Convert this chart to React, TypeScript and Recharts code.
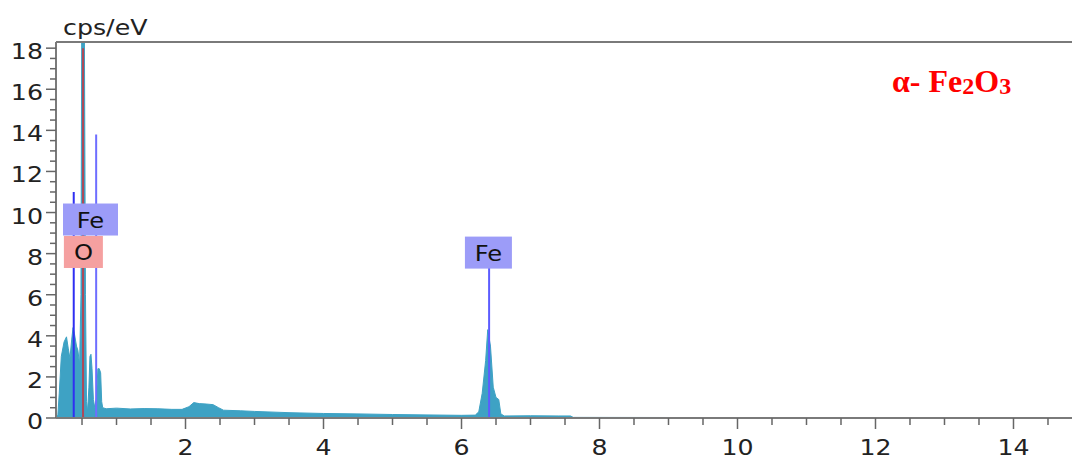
import { ComposedChart, Area, XAxis, YAxis, ReferenceLine, ReferenceDot } from "recharts";

// spectrum (keV, cps/eV)
const energy = [
  0.123, 0.15, 0.17, 0.2, 0.24, 0.275, 0.3, 0.325, 0.35, 0.37, 0.39, 0.42, 0.44, 0.465, 0.485, 0.495,
  0.535, 0.55, 0.565, 0.58, 0.6, 0.615, 0.63, 0.645, 0.665, 0.685, 0.71, 0.73, 0.75, 0.77, 0.785,
  0.8, 0.85, 1.0, 1.2, 1.4, 1.6, 1.8, 1.95, 2.05, 2.12, 2.2, 2.3, 2.4, 2.48, 2.55, 2.8, 3.0, 3.5,
  4.0, 4.5, 5.0, 5.5, 6.0, 6.2, 6.25, 6.3, 6.35, 6.38, 6.42, 6.46, 6.5, 6.54, 6.57, 6.62, 7.0, 7.4,
  7.58, 7.62, 10.0, 14.85,
];
const counts = [
  0.05, 0.15, 1.2, 3.0, 3.7, 3.95, 3.4, 2.9, 3.8, 4.4, 4.1, 3.5, 3.3, 2.6, 6.0, 18.3,
  18.3, 6.0, 0.8, 0.3, 1.5, 3.0, 3.1, 2.4, 0.9, 0.5, 1.0, 2.4, 2.4, 2.2, 0.8,
  0.5, 0.45, 0.48, 0.44, 0.46, 0.45, 0.42, 0.42, 0.55, 0.75, 0.7, 0.68, 0.65, 0.5, 0.38, 0.35, 0.32, 0.26,
  0.22, 0.2, 0.17, 0.15, 0.13, 0.14, 0.3, 1.2, 2.8, 4.3, 3.5, 1.5, 1.0, 0.9, 0.2, 0.1, 0.11, 0.1,
  0.1, 0.03, 0.02, 0.02,
];

// element marker lines
const markerEnergy = [0.38, 0.515, 0.705, 6.4];
const markerHeight = [11.0, 18.0, 13.8, 7.35];
const markerColor = ["#2f2ff2", "#b04858", "#6e6eff", "#5c5cff"];

// element label boxes
const labelText = ["Fe", "O", "Fe"];
const labelEnergy = [0.623, 0.52, 6.39];
const labelLevel = [9.66, 8.08, 8.05];
const labelFill = ["#9c9cf8", "#f5a0a0", "#9c9cf8"];
const labelWidth = [55, 39, 47];

const xTicks = [
  0.5, 1, 1.5, 2, 2.5, 3, 3.5, 4, 4.5, 5, 5.5, 6, 6.5, 7, 7.5, 8, 8.5, 9, 9.5, 10, 10.5, 11, 11.5,
  12, 12.5, 13, 13.5, 14, 14.5,
];
const yTicks = [
  0, 0.5, 1, 1.5, 2, 2.5, 3, 3.5, 4, 4.5, 5, 5.5, 6, 6.5, 7, 7.5, 8, 8.5, 9, 9.5, 10, 10.5, 11, 11.5,
  12, 12.5, 13, 13.5, 14, 14.5, 15, 15.5, 16, 16.5, 17, 17.5, 18,
];

const data = energy.map((e, i) => ({ e, c: counts[i] }));

const FONT = "'DejaVu Sans', Verdana, sans-serif";
const AXIS = "#7a7a7a";
const TEAL = "#3ea2c4";

function XTick(props: any) {
  const { x, y, payload } = props;
  const major = payload.value % 2 === 0;
  return (
    <g>
      <line x1={x} y1={y} x2={x} y2={y + (major ? 11 : 7)} stroke="#666" strokeWidth={1.5} />
      {major && (
        <text transform={`translate(${x},${y + 37}) scale(1.2,1)`} textAnchor="middle" fontSize={21} fontFamily={FONT} fill="#222">
          {payload.value}
        </text>
      )}
    </g>
  );
}

function YTick(props: any) {
  const { x, y, payload } = props;
  const major = payload.value % 2 === 0;
  return (
    <g>
      <line x1={x - (major ? 10 : 6)} y1={y} x2={x} y2={y} stroke="#666" strokeWidth={1.5} />
      {major && (
        <text transform={`translate(${x - 13},${y + 11}) scale(1.15,1)`} textAnchor="end" fontSize={22} fontFamily={FONT} fill="#222">
          {payload.value}
        </text>
      )}
    </g>
  );
}

function labelBox(i: number) {
  return (p: any) => {
    const w = labelWidth[i];
    const h = 32;
    return (
      <g>
        <rect x={p.cx - w / 2} y={p.cy - h / 2} width={w} height={h} fill={labelFill[i]} />
        <text
          transform={`translate(${p.cx},${p.cy + 8}) scale(1.1,1)`}
          textAnchor="middle"
          fontSize={22}
          fontFamily={FONT}
          fill="#111"
        >
          {labelText[i]}
        </text>
      </g>
    );
  };
}

export default function App() {
  return (
    <div style={{ position: "absolute", left: 0, top: 0, width: 1072, height: 459, background: "#fff" }}>
      <ComposedChart width={1072} height={459} data={data} margin={{ top: 42, right: 0, bottom: 0, left: 0 }}>
        <XAxis
          dataKey="e"
          type="number"
          domain={[0.123, 14.848]}
          allowDataOverflow
          ticks={xTicks}
          interval={0}
          height={41}
          tickSize={0}
          tickMargin={0}
          tickLine={false}
          axisLine={{ stroke: AXIS, strokeWidth: 2 }}
          tick={<XTick />}
        />
        <YAxis
          type="number"
          domain={[0, 18.3]}
          allowDataOverflow
          ticks={yTicks}
          interval={0}
          width={56}
          tickSize={0}
          tickMargin={0}
          tickLine={false}
          axisLine={{ stroke: AXIS, strokeWidth: 2 }}
          tick={<YTick />}
        />
        <ReferenceLine y={18.3} stroke={AXIS} strokeWidth={2} />
        <Area
          dataKey="c"
          type="linear"
          stroke={TEAL}
          strokeWidth={1}
          fill={TEAL}
          fillOpacity={1}
          dot={false}
          activeDot={false}
          isAnimationActive={false}
        />
        {markerEnergy.map((e, i) => (
          <ReferenceLine
            key={`m${i}`}
            segment={[
              { x: e, y: 0 },
              { x: e, y: markerHeight[i] },
            ]}
            stroke={markerColor[i]}
            strokeWidth={2}
          />
        ))}
        {labelText.map((t, i) => (
          <ReferenceDot key={`l${i}`} x={labelEnergy[i]} y={labelLevel[i]} r={1} shape={labelBox(i)} />
        ))}
      </ComposedChart>
      <svg width={1072} height={459} style={{ position: "absolute", left: 0, top: 0, pointerEvents: "none" }}>
        <text transform="translate(63,35) scale(1.15,1)" fontSize={22} fontFamily={FONT} fill="#222">
          cps/eV
        </text>
        <text x={892} y={92} fontSize={32} fontWeight="bold" fontFamily="'Liberation Serif', 'Times New Roman', serif" fill="#ff0000">
          α- Fe<tspan fontSize={24} dy={2}>2</tspan>
          <tspan dy={-2}>O</tspan>
          <tspan fontSize={24} dy={2}>3</tspan>
        </text>
      </svg>
    </div>
  );
}
